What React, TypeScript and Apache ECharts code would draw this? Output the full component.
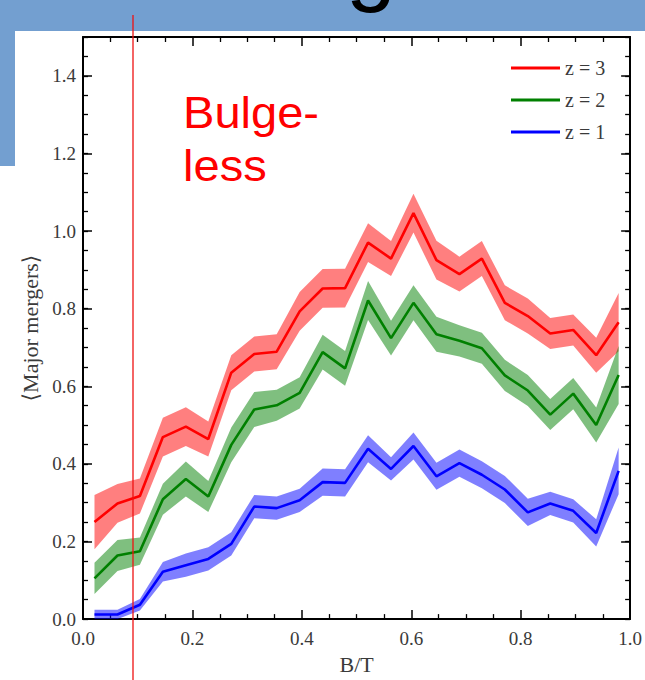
import React, { useEffect, useRef } from "react";
import * as echarts from "echarts";

// B/T bin centres (24 bins of width 1/24)
const binCentres = [
  0.021, 0.063, 0.104, 0.146, 0.188, 0.229, 0.271, 0.313, 0.354, 0.396, 0.438, 0.479,
  0.521, 0.563, 0.604, 0.646, 0.688, 0.729, 0.771, 0.813, 0.854, 0.896, 0.938, 0.979,
];

// Mean number of major mergers per bin, and half-width of the shaded band
const meanZ3 = [
  0.25, 0.298, 0.317, 0.469, 0.496, 0.464, 0.635, 0.683, 0.689, 0.793, 0.852, 0.853,
  0.97, 0.929, 1.046, 0.925, 0.889, 0.929, 0.815, 0.781, 0.736, 0.745, 0.68, 0.765,
];
const errZ3 = [
  0.07, 0.05, 0.045, 0.05, 0.05, 0.045, 0.045, 0.045, 0.045, 0.05, 0.05, 0.05,
  0.05, 0.045, 0.05, 0.05, 0.045, 0.045, 0.045, 0.045, 0.04, 0.04, 0.045, 0.075,
];
const meanZ2 = [
  0.105, 0.164, 0.175, 0.309, 0.361, 0.316, 0.449, 0.54, 0.551, 0.583, 0.688, 0.646,
  0.821, 0.724, 0.815, 0.734, 0.717, 0.698, 0.628, 0.589, 0.527, 0.581, 0.5, 0.629,
];
const errZ2 = [
  0.04, 0.04, 0.035, 0.04, 0.045, 0.04, 0.045, 0.045, 0.04, 0.04, 0.045, 0.045,
  0.05, 0.045, 0.045, 0.045, 0.04, 0.04, 0.04, 0.04, 0.04, 0.04, 0.045, 0.075,
];
const meanZ1 = [
  0.012, 0.012, 0.037, 0.122, 0.139, 0.155, 0.194, 0.29, 0.286, 0.306, 0.353, 0.351,
  0.439, 0.387, 0.446, 0.368, 0.402, 0.372, 0.334, 0.275, 0.298, 0.279, 0.222, 0.382,
];
const errZ1 = [
  0.012, 0.012, 0.015, 0.025, 0.03, 0.03, 0.03, 0.03, 0.03, 0.03, 0.035, 0.035,
  0.035, 0.03, 0.035, 0.035, 0.035, 0.035, 0.035, 0.035, 0.03, 0.03, 0.035, 0.06,
];

const seriesNames = ["z = 3", "z = 2", "z = 1"];

const SERIF = "'Liberation Serif', 'DejaVu Serif', serif";
const SANS = "'Liberation Sans', Arial, sans-serif";

function bandSeries(mean: number[], err: number[], fill: string) {
  return {
    type: "custom",
    silent: true,
    clip: true,
    data: binCentres.map((x, i) => [x, mean[i] - err[i], mean[i] + err[i]]),
    encode: { x: 0, y: [1, 2] },
    renderItem: (params: any, api: any) => {
      if (params.dataIndex !== 0) return null;
      const upper = binCentres.map((x, i) => api.coord([x, mean[i] + err[i]]));
      const lower = binCentres.map((x, i) => api.coord([x, mean[i] - err[i]])).reverse();
      return {
        type: "polygon",
        shape: { points: upper.concat(lower) },
        style: { fill, stroke: "none" },
      };
    },
  };
}

function lineSeries(name: string, mean: number[], color: string) {
  return {
    type: "line",
    name,
    data: binCentres.map((x, i) => [x, mean[i]]),
    showSymbol: false,
    symbol: "none",
    lineStyle: { color, width: 2.6 },
    itemStyle: { color },
    silent: true,
  };
}

const tickLabel = { fontFamily: SERIF, fontSize: 19, color: "#3a3a3a" };

function majorX(position: "bottom" | "top", labels: boolean) {
  return {
    type: "value",
    position,
    min: 0,
    max: 1,
    interval: 0.2,
    axisLine: { show: true, onZero: false, lineStyle: { color: "#000", width: 2 } },
    axisTick: { show: true, inside: true, length: 9, lineStyle: { color: "#000", width: 1.5 } },
    minorTick: { show: true, splitNumber: 4, length: 5, lineStyle: { color: "#000", width: 1.3 } },
    splitLine: { show: false },
    minorSplitLine: { show: false },
    axisLabel: labels
      ? { show: true, margin: 10, ...tickLabel, formatter: (v: number) => v.toFixed(1) }
      : { show: false },
  };
}

function yAxes(position: "left" | "right", labels: boolean) {
  return [
    {
      type: "value",
      position,
      min: 0,
      max: 1.5,
      interval: 0.2,
      axisLine: { show: true, onZero: false, lineStyle: { color: "#000", width: 2 } },
      axisTick: { show: true, inside: true, length: 9, lineStyle: { color: "#000", width: 1.5 } },
      splitLine: { show: false },
      axisLabel: labels
        ? {
            show: true,
            margin: 7,
            ...tickLabel,
            formatter: (v: number) => (v > 1.45 ? "" : v.toFixed(1)),
          }
        : { show: false },
      ...(labels
        ? {
            name: "\u27E8Major mergers\u27E9",
            nameLocation: "middle",
            nameGap: 42,
            nameTextStyle: { fontFamily: SERIF, fontSize: 22, color: "#3a3a3a" },
          }
        : {}),
    },
    {
      type: "value",
      position,
      min: 0,
      max: 1.5,
      interval: 0.05,
      axisLine: { show: false, onZero: false },
      axisTick: { show: true, inside: true, length: 5, lineStyle: { color: "#000", width: 1.3 } },
      splitLine: { show: false },
      axisLabel: { show: false },
    },
  ];
}

export default function App() {
  const ref = useRef<HTMLDivElement>(null);

  useEffect(() => {
    if (!ref.current) return;
    const chart = echarts.init(ref.current, null, { renderer: "svg" });

    const bottomX = {
      ...majorX("bottom", true),
      name: "B/T",
      nameLocation: "middle",
      nameGap: 30,
      nameTextStyle: { fontFamily: SERIF, fontSize: 22, color: "#3a3a3a" },
    };

    chart.setOption({
      animation: false,
      backgroundColor: "#ffffff",
      grid: { left: 83, right: 12, top: 37, bottom: 53, containLabel: false },
      xAxis: [bottomX, majorX("top", false)],
      yAxis: [...yAxes("left", true), ...yAxes("right", false)],
      legend: {
        data: seriesNames,
        orient: "vertical",
        left: 511,
        top: 58,
        padding: 0,
        icon: "rect",
        itemWidth: 49,
        itemHeight: 3,
        itemGap: 12,
        selectedMode: false,
        textStyle: { fontFamily: SERIF, fontSize: 20, color: "#3a3a3a" },
      },
      series: [
        bandSeries(meanZ3, errZ3, "rgba(255,0,0,0.5)"),
        lineSeries(seriesNames[0], meanZ3, "#ff0000"),
        bandSeries(meanZ2, errZ2, "rgba(0,128,0,0.5)"),
        lineSeries(seriesNames[1], meanZ2, "#008000"),
        bandSeries(meanZ1, errZ1, "rgba(0,0,255,0.5)"),
        lineSeries(seriesNames[2], meanZ1, "#0000ff"),
      ],
      graphic: [
        // slide backdrop
        { type: "rect", z: -10, shape: { x: 0, y: 0, width: 645, height: 31 }, style: { fill: "#739fd0" } },
        { type: "rect", z: -10, shape: { x: 0, y: 0, width: 15, height: 166 }, style: { fill: "#739fd0" } },
        {
          type: "text",
          z: -5,
          x: 346,
          y: -37,
          style: { text: "g", font: `90px ${SANS}`, fill: "#000", verticalAlign: "middle" },
        },
        // bulgeless threshold marker
        {
          type: "line",
          z: 100,
          shape: { x1: 133, y1: 15, x2: 133, y2: 680 },
          style: { stroke: "#ee1111", lineWidth: 1.3 },
        },
        {
          type: "text",
          z: 100,
          x: 183,
          y: 87,
          scaleX: 1.07,
          style: {
            text: "Bulge-\nless",
            font: `44px ${SANS}`,
            lineHeight: 53,
            fill: "#ff0000",
            verticalAlign: "top",
          },
        },
      ],
    });

    return () => chart.dispose();
  }, []);

  return (
    <div
      ref={ref}
      style={{ position: "fixed", left: 0, top: 0, width: 645, height: 680 }}
    />
  );
}
